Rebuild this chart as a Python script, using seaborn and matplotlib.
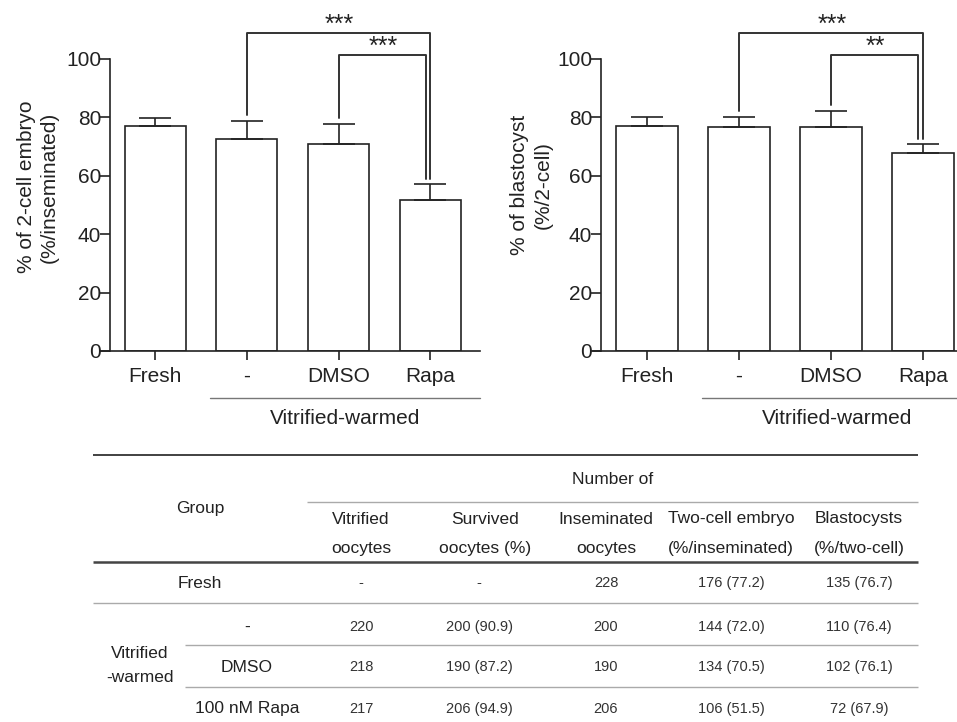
import numpy as np
import seaborn as sns
import matplotlib.pyplot as plt
from matplotlib.transforms import blended_transform_factory

# ---- data ----
cats = ['Fresh', '-', 'DMSO', 'Rapa']
two_cell_mean = [77.1, 72.5, 71.0, 51.6]
two_cell_err = [2.7, 6.1, 6.6, 5.6]
blast_mean = [77.0, 76.7, 76.7, 67.9]
blast_err = [3.0, 3.3, 5.5, 3.0]

# significance brackets: (left idx, right idx, p-label)
two_cell_sig = [(1, 3, '***'), (2, 3, '***')]
blast_sig = [(1, 3, '***'), (2, 3, '**')]

# table
tab_groups = ['Fresh', '-', 'DMSO', '100 nM Rapa']
tab_head1 = ['Vitrified', 'Survived', 'Inseminated', 'Two-cell embryo', 'Blastocysts']
tab_head2 = ['oocytes', 'oocytes (%)', 'oocytes', '(%/inseminated)', '(%/two-cell)']
col_vitrified = ['-', '220', '218', '217']
col_survived = ['-', '200 (90.9)', '190 (87.2)', '206 (94.9)']
col_inseminated = ['228', '200', '190', '206']
col_two_cell = ['176 (77.2)', '144 (72.0)', '134 (70.5)', '106 (51.5)']
col_blast = ['135 (76.7)', '110 (76.4)', '102 (76.1)', '72 (67.9)']

sns.set_style('white')
plt.rcParams['font.family'] = ['Liberation Sans', 'DejaVu Sans']
INK = '#222222'

W, H = 957, 722
fig = plt.figure(figsize=(W / 100, H / 100), dpi=100)


def px_axes(x0, x1, y_top, y_bot):
    return fig.add_axes([x0 / W, 1 - y_bot / H, (x1 - x0) / W, (y_bot - y_top) / H])


def bar_panel(ax, means, errs, sig, ylabel, xlim, spine_off, line_x0, label_xy):
    sns.barplot(x=cats, y=means, ax=ax, color='white', edgecolor=INK,
                linewidth=1.2, width=0.665, errorbar=None, saturation=1)
    x = np.arange(len(cats))
    ax.errorbar(x, means, yerr=[np.zeros(len(x)), errs], fmt='none',
                ecolor=INK, elinewidth=1.2, capsize=11.5, capthick=1.2, zorder=3)
    ax.set_xlim(*xlim)
    ax.set_ylim(0, 100)
    ax.set_yticks([0, 20, 40, 60, 80, 100])
    for s in ['top', 'right']:
        ax.spines[s].set_visible(False)
    for s in ['left', 'bottom']:
        ax.spines[s].set_color(INK)
        ax.spines[s].set_linewidth(1.2)
    ax.spines['left'].set_position(('axes', spine_off))
    ax.tick_params(axis='y', length=7.2, width=1.2, color=INK, pad=-1,
                   labelsize=15, labelcolor=INK, direction='out', left=True)
    ax.tick_params(axis='x', length=6.5, width=1.2, color=INK, pad=5,
                   labelsize=15, labelcolor=INK, direction='out', bottom=True)
    ax.set_xlabel('')
    ax.set_ylabel('')

    # significance brackets
    tops = [m + e for m, e in zip(means, errs)]
    levels = [109.0, 101.5]
    offs = [0.0, -0.05]
    for (i, j, lab), yl, off in zip(sig, levels, offs):
        xj = j + off
        ax.plot([i, i, xj, xj], [tops[i] + 2.2, yl, yl, tops[j] + 1.6],
                color='#333333', lw=1.4, clip_on=False)
        ax.text((i + xj) / 2 + 0.01, yl + 0.4, lab,
                ha='center', va='baseline', fontsize=18, color=INK)

    # group underline
    tr = blended_transform_factory(ax.transData, ax.transAxes)
    ax.plot([line_x0, xlim[1]], [-0.16, -0.16], color='#777777', lw=1.0,
            transform=tr, clip_on=False)
    ax.text(2.07, -0.23, 'Vitrified-warmed', transform=tr, ha='center',
            va='center', fontsize=15, color=INK)
    fig.text(label_xy[0] / W, 1 - label_xy[1] / H, ylabel, rotation=90,
             ha='center', va='center', fontsize=15, color=INK,
             multialignment='center', linespacing=1.3)


ax1 = px_axes(100, 480, 59, 351)
bar_panel(ax1, two_cell_mean, two_cell_err, two_cell_sig,
          '% of 2-cell embryo\n(%/inseminated)', (-0.6, 3.54), 0.026, 0.6, (38, 187))
ax2 = px_axes(593, 957, 59, 351)
bar_panel(ax2, blast_mean, blast_err, blast_sig,
          '% of blastocyst\n(%/2-cell)', (-0.587, 3.37), 0.021, 0.6, (531, 185))

# ---- table ----
tab = fig.add_axes([0, 0, 1, 1])
tab.set_xlim(0, W)
tab.set_ylim(H, 0)
tab.axis('off')

TX0, TX1 = 93, 918
tab.hlines(455, TX0, TX1, color='#333333', lw=1.3)
tab.hlines(502, 307, TX1, color='#aaaaaa', lw=1.0)
tab.hlines(562, TX0, TX1, color='#444444', lw=1.8)
tab.hlines(603, TX0, TX1, color='#aaaaaa', lw=1.0)
tab.hlines([645, 687], 185, TX1, color='#aaaaaa', lw=1.0)

col_x = [361, 485, 606, 731, 859]
tab.text(613, 479, 'Number of', ha='center', va='center', fontsize=12.5, color=INK)
tab.text(200, 509, 'Group', ha='center', va='center', fontsize=12.5, color=INK)
for cx, h1, h2 in zip(col_x, tab_head1, tab_head2):
    tab.text(cx, 519, h1, ha='center', va='center', fontsize=12.5, color=INK)
    tab.text(cx, 549, h2, ha='center', va='center', fontsize=12.5, color=INK)

row_y = [583, 627, 667, 709]
label_x = [200, 247, 247, 247]
cols = [col_vitrified, col_survived, col_inseminated, col_two_cell, col_blast]
val_x = [361, 479, 606, 731, 859]
for r, (ry, lx, g) in enumerate(zip(row_y, label_x, tab_groups)):
    tab.text(lx, ry, g, ha='center', va='center', fontsize=12.5, color=INK)
    for cx, col in zip(val_x, cols):
        tab.text(cx, ry, col[r], ha='center', va='center', fontsize=10.5, color='#333333')
tab.text(140, 653, 'Vitrified', ha='center', va='center', fontsize=12.5, color=INK)
tab.text(140, 678, '-warmed', ha='center', va='center', fontsize=12.5, color=INK)

fig.savefig('out.png', dpi=100)
